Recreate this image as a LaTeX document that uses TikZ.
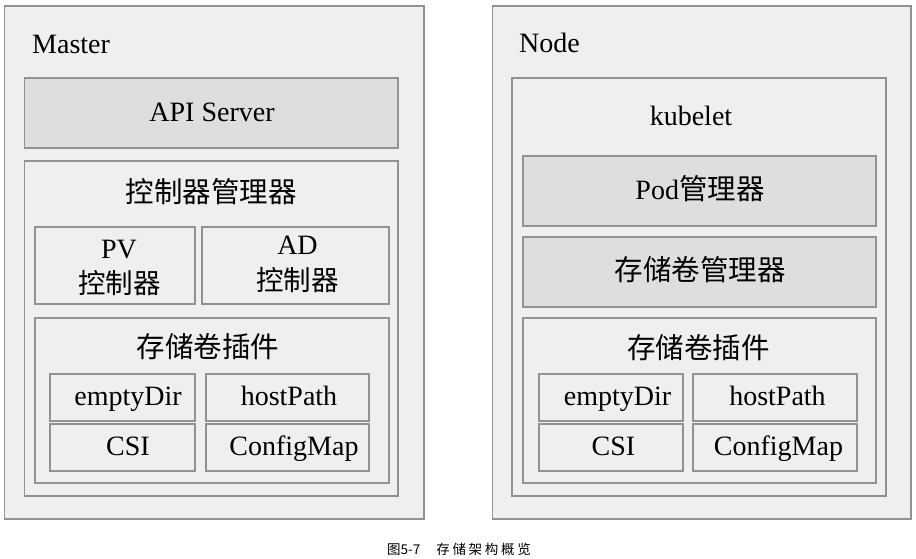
\documentclass[tikz,border=0pt]{standalone}
\usepackage{fontspec}
\setmainfont{Liberation Serif}
\newfontfamily\cjk{Noto Sans CJK SC}
\newfontfamily\capcjk{Noto Sans CJK SC}[LetterSpace=20]
\definecolor{edgegray}{RGB}{146,146,146}
\definecolor{panelfill}{RGB}{239,239,239}
\definecolor{darkfill}{RGB}{222,222,222}
\tikzset{
  panel/.style={draw=edgegray, line width=1.3pt, fill=panelfill, inner sep=0pt},
  lbox/.style={draw=edgegray, line width=1.8pt, fill=panelfill, inner sep=0pt},
  dbox/.style={draw=edgegray, line width=1.8pt, fill=darkfill, inner sep=0pt},
  txt/.style={font=\fontsize{28}{32}\selectfont, inner sep=0pt, align=center, text height=20pt, text depth=4pt},
  zh/.style={font=\fontsize{28.5}{32}\selectfont\cjk, inner sep=0pt, align=center},
}
\begin{document}
\begin{tikzpicture}[x=1pt,y=-1pt]
\useasboundingbox[fill=white] (0,0) rectangle (916,559);
% outer panels
\node[panel, minimum width=419.5pt, minimum height=513pt] (master) at (214.25,262.5) {};
\node[panel, minimum width=418.3pt, minimum height=513pt] (nodep) at (701.85,262.5) {};
\node[txt, anchor=base west, text height=, text depth=] (mastert) at (32,54) {Master};
\node[txt, anchor=base west, text height=, text depth=] (nodet) at (519,53) {Node};
% master contents
\node[dbox, minimum width=373.5pt, minimum height=70pt] (api) at (211.25,113) {};
\node[txt] (apit) at (212,113.5) {API Server};
\node[lbox, minimum width=373.5pt, minimum height=335pt] (ctrl) at (211.25,328.5) {};
\node[zh] (ctrlt) at (211,192) {控制器管理器};
\node[lbox, minimum width=160pt, minimum height=77pt] (pv) at (115,265.5) {};
\node[inner sep=0pt, font=\fontsize{28}{32}\selectfont, anchor=base] (pvt) at (119,258) {PV};
\node[zh, font=\fontsize{27.5}{32}\selectfont\cjk] (pvt2) at (119.5,283) {控制器};
\node[lbox, minimum width=187pt, minimum height=77pt] (ad) at (295.5,265.5) {};
\node[inner sep=0pt, font=\fontsize{28}{32}\selectfont, anchor=base] (adt) at (297.5,254.5) {AD};
\node[zh, font=\fontsize{27.5}{32}\selectfont\cjk] (adt2) at (297.5,280) {控制器};
\node[lbox, minimum width=354pt, minimum height=165pt] (mplug) at (212,400.5) {};
\node[zh] (mplugt) at (208,347) {存储卷插件};
\node[lbox, minimum width=145pt, minimum height=47pt] (mempty) at (122.5,397.5) {};
\node[txt] (memptyt) at (128,397.5) {emptyDir};
\node[lbox, minimum width=163pt, minimum height=47pt] (mhost) at (287.5,397.5) {};
\node[txt] (mhostt) at (289,397.5) {hostPath};
\node[lbox, minimum width=145pt, minimum height=47pt] (mcsi) at (122.5,447.5) {};
\node[txt] (mcsit) at (128,447.5) {CSI};
\node[lbox, minimum width=163pt, minimum height=47pt] (mcfg) at (287.5,447.5) {};
\node[txt] (mcfgt) at (294,447.5) {ConfigMap};
% node contents
\node[lbox, minimum width=374pt, minimum height=418pt] (kubelet) at (699,287) {};
\node[txt] (kubeltt) at (691,118) {kubelet};
\node[dbox, minimum width=353pt, minimum height=70pt] (pod) at (699.5,191) {};
\node[txt] (podt) at (700,192) {Pod{\cjk\fontsize{28.5}{32}\selectfont 管理器}};
\node[dbox, minimum width=353pt, minimum height=70pt] (volmgr) at (699.5,272) {};
\node[zh] (volmgrt) at (700,270) {存储卷管理器};
\node[lbox, minimum width=353pt, minimum height=165pt] (nplug) at (699.5,400.5) {};
\node[zh] (nplugt) at (698.5,348) {存储卷插件};
\node[lbox, minimum width=144pt, minimum height=47pt] (nempty) at (611,397.5) {};
\node[txt] (nemptyt) at (617.5,397.5) {emptyDir};
\node[lbox, minimum width=164pt, minimum height=47pt] (nhost) at (775,397.5) {};
\node[txt] (nhostt) at (777.5,397.5) {hostPath};
\node[lbox, minimum width=144pt, minimum height=47pt] (ncsi) at (611,447.5) {};
\node[txt] (ncsit) at (613.5,447.5) {CSI};
\node[lbox, minimum width=164pt, minimum height=47pt] (ncfg) at (775,447.5) {};
\node[txt] (ncfgt) at (778.5,447.5) {ConfigMap};
% caption
\node[inner sep=0pt, font=\fontsize{13.5}{15}\selectfont\cjk] (cap) at (459,549) {图5-7\hspace{16pt}{\capcjk 存储架构概览}};
\end{tikzpicture}
\end{document}
